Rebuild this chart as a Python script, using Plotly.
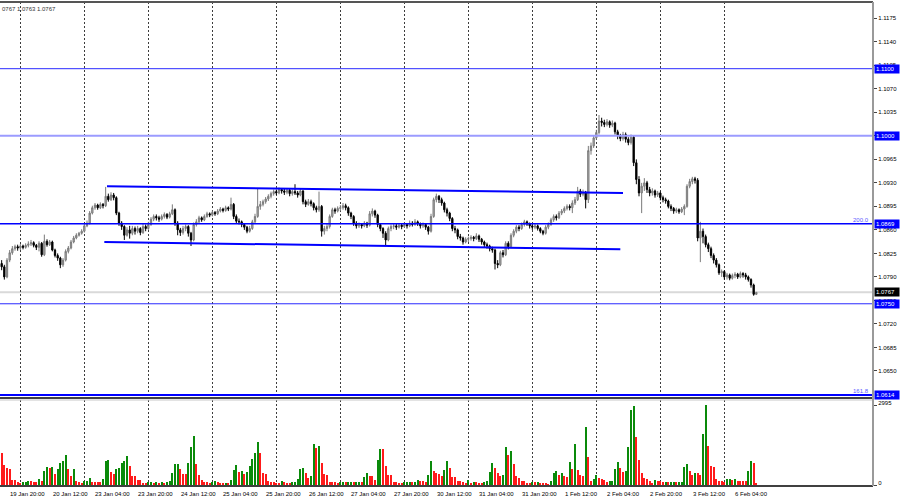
import pandas as pd
import plotly.graph_objects as go

# ---------------- data ----------------
hours = pd.date_range("2023-01-19 18:00", "2023-02-06 13:00", freq="h")
bar_times = [t for t in hours if t.weekday() < 5]

opens = [
1.0810, 1.0805, 1.0790, 1.0815, 1.0826, 1.0832, 1.0835, 1.0833, 1.0836, 1.0834,
1.0837, 1.0839, 1.0841, 1.0837, 1.0834, 1.0840, 1.0823, 1.0843, 1.0838, 1.0842,
1.0830, 1.0822, 1.0818, 1.0808, 1.0815, 1.0828, 1.0833, 1.0842, 1.0848, 1.0852,
1.0855, 1.0858, 1.0866, 1.0870, 1.0885, 1.0893, 1.0897, 1.0893, 1.0898, 1.0896,
1.0910, 1.0905, 1.0912, 1.0908, 1.0885, 1.0870, 1.0865, 1.0852, 1.0860, 1.0855,
1.0862, 1.0858, 1.0862, 1.0856, 1.0865, 1.0862, 1.0868, 1.0876, 1.0880, 1.0878,
1.0876, 1.0880, 1.0883, 1.0879, 1.0884, 1.0890, 1.0870, 1.0860, 1.0856, 1.0862,
1.0865, 1.0855, 1.0845, 1.0868, 1.0872, 1.0878, 1.0875, 1.0880, 1.0884, 1.0882,
1.0886, 1.0884, 1.0888, 1.0891, 1.0889, 1.0893, 1.0891, 1.0898, 1.0880, 1.0873,
1.0872, 1.0868, 1.0864, 1.0858, 1.0862, 1.0872, 1.0880, 1.0895, 1.0898, 1.0902,
1.0906, 1.0910, 1.0914, 1.0917, 1.0915, 1.0920, 1.0918, 1.0916, 1.0919, 1.0914,
1.0917, 1.0915, 1.0912, 1.0918, 1.0902, 1.0898, 1.0902, 1.0899, 1.0893, 1.0890,
1.0895, 1.0858, 1.0862, 1.0865, 1.0880, 1.0890, 1.0888, 1.0892, 1.0893, 1.0896,
1.0893, 1.0885, 1.0880, 1.0870, 1.0866, 1.0868, 1.0866, 1.0870, 1.0867, 1.0884,
1.0888, 1.0882, 1.0868, 1.0862, 1.0855, 1.0845, 1.0862, 1.0865, 1.0866, 1.0864,
1.0867, 1.0865, 1.0868, 1.0866, 1.0870, 1.0868, 1.0872, 1.0869, 1.0866, 1.0868,
1.0864, 1.0858, 1.0880, 1.0905, 1.0910, 1.0905, 1.0900, 1.0890, 1.0885, 1.0877,
1.0862, 1.0860, 1.0850, 1.0848, 1.0842, 1.0846, 1.0847, 1.0849, 1.0847, 1.0851,
1.0846, 1.0842, 1.0838, 1.0836, 1.0832, 1.0830, 1.0810, 1.0808, 1.0826, 1.0823,
1.0840, 1.0835, 1.0852, 1.0858, 1.0864, 1.0862, 1.0868, 1.0872, 1.0869, 1.0866,
1.0864, 1.0866, 1.0862, 1.0858, 1.0855, 1.0864, 1.0868, 1.0875, 1.0880, 1.0878,
1.0885, 1.0888, 1.0892, 1.0895, 1.0893, 1.0900, 1.0905, 1.0918, 1.0913, 1.0916,
1.0905, 1.0978, 1.0985, 1.0997, 1.1005, 1.1022, 1.1020, 1.1017, 1.1021, 1.1016,
1.1019, 1.1006, 1.1000, 1.0996, 1.1002, 1.0995, 1.0990, 1.0998, 1.0960, 1.0935,
1.0915, 1.0925, 1.0930, 1.0920, 1.0915, 1.0918, 1.0912, 1.0915, 1.0908, 1.0905,
1.0903, 1.0895, 1.0892, 1.0888, 1.0890, 1.0887, 1.0891, 1.0895, 1.0925, 1.0932,
1.0936, 1.0934, 1.0848, 1.0858, 1.0850, 1.0838, 1.0832, 1.0822, 1.0815, 1.0808,
1.0796, 1.0798, 1.0790, 1.0793, 1.0788, 1.0792, 1.0794, 1.0790, 1.0795, 1.0793,
1.0790, 1.0786, 1.0778, 1.0764,
]

highs = [
1.0815, 1.0808, 1.0818, 1.0830, 1.0836, 1.0838, 1.0838, 1.0839, 1.0838, 1.0840,
1.0843, 1.0845, 1.0843, 1.0839, 1.0843, 1.0842, 1.0853, 1.0846, 1.0845, 1.0844,
1.0832, 1.0825, 1.0820, 1.0818, 1.0831, 1.0836, 1.0845, 1.0851, 1.0855, 1.0857,
1.0861, 1.0869, 1.0874, 1.0888, 1.0896, 1.0900, 1.0899, 1.0901, 1.0900, 1.0924,
1.0914, 1.0916, 1.0915, 1.0910, 1.0887, 1.0873, 1.0867, 1.0864, 1.0866, 1.0866,
1.0865, 1.0866, 1.0864, 1.0869, 1.0868, 1.0872, 1.0879, 1.0883, 1.0883, 1.0881,
1.0883, 1.0886, 1.0885, 1.0887, 1.0898, 1.0892, 1.0873, 1.0863, 1.0866, 1.0868,
1.0867, 1.0857, 1.0871, 1.0876, 1.0881, 1.0880, 1.0883, 1.0887, 1.0886, 1.0889,
1.0888, 1.0891, 1.0894, 1.0893, 1.0896, 1.0895, 1.0908, 1.0900, 1.0883, 1.0877,
1.0874, 1.0870, 1.0866, 1.0866, 1.0875, 1.0884, 1.0922, 1.0903, 1.0905, 1.0909,
1.0913, 1.0917, 1.0920, 1.0920, 1.0923, 1.0922, 1.0921, 1.0922, 1.0921, 1.0920,
1.0928, 1.0918, 1.0922, 1.0919, 1.0905, 1.0906, 1.0905, 1.0901, 1.0896, 1.0917,
1.0897, 1.0866, 1.0869, 1.0883, 1.0893, 1.0893, 1.0895, 1.0897, 1.0900, 1.0899,
1.0895, 1.0887, 1.0882, 1.0873, 1.0871, 1.0870, 1.0873, 1.0872, 1.0888, 1.0892,
1.0890, 1.0884, 1.0870, 1.0864, 1.0858, 1.0865, 1.0868, 1.0870, 1.0869, 1.0870,
1.0869, 1.0871, 1.0870, 1.0874, 1.0873, 1.0876, 1.0874, 1.0871, 1.0871, 1.0869,
1.0866, 1.0884, 1.0908, 1.0914, 1.0912, 1.0908, 1.0902, 1.0893, 1.0887, 1.0879,
1.0866, 1.0862, 1.0854, 1.0850, 1.0849, 1.0850, 1.0852, 1.0851, 1.0855, 1.0853,
1.0848, 1.0844, 1.0841, 1.0838, 1.0835, 1.0832, 1.0815, 1.0829, 1.0830, 1.0843,
1.0843, 1.0855, 1.0861, 1.0867, 1.0867, 1.0871, 1.0875, 1.0874, 1.0871, 1.0869,
1.0869, 1.0868, 1.0864, 1.0860, 1.0867, 1.0871, 1.0878, 1.0883, 1.0883, 1.0888,
1.0891, 1.0895, 1.0898, 1.0898, 1.0904, 1.0909, 1.0924, 1.0921, 1.0920, 1.0918,
1.0985, 1.0990, 1.1001, 1.1009, 1.1031, 1.1027, 1.1024, 1.1025, 1.1023, 1.1023,
1.1021, 1.1009, 1.1003, 1.1006, 1.1005, 1.0998, 1.1002, 1.1000, 1.0965, 1.0940,
1.0930, 1.0937, 1.0933, 1.0924, 1.0922, 1.0920, 1.0918, 1.0917, 1.0911, 1.0908,
1.0905, 1.0898, 1.0894, 1.0893, 1.0892, 1.0894, 1.0898, 1.0928, 1.0936, 1.0939,
1.0939, 1.0937, 1.0872, 1.0862, 1.0853, 1.0841, 1.0835, 1.0825, 1.0818, 1.0810,
1.0801, 1.0800, 1.0796, 1.0795, 1.0795, 1.0797, 1.0796, 1.0798, 1.0797, 1.0796,
1.0792, 1.0788, 1.0780, 1.0767,
]

lows = [
1.0800, 1.0786, 1.0788, 1.0812, 1.0823, 1.0829, 1.0829, 1.0830, 1.0831, 1.0832,
1.0834, 1.0836, 1.0834, 1.0830, 1.0828, 1.0820, 1.0821, 1.0835, 1.0836, 1.0828,
1.0819, 1.0814, 1.0803, 1.0805, 1.0813, 1.0825, 1.0831, 1.0840, 1.0846, 1.0850,
1.0853, 1.0856, 1.0864, 1.0868, 1.0883, 1.0890, 1.0890, 1.0891, 1.0892, 1.0894,
1.0902, 1.0903, 1.0904, 1.0882, 1.0866, 1.0860, 1.0845, 1.0850, 1.0847, 1.0852,
1.0853, 1.0855, 1.0852, 1.0854, 1.0858, 1.0860, 1.0866, 1.0873, 1.0874, 1.0872,
1.0874, 1.0877, 1.0876, 1.0877, 1.0882, 1.0866, 1.0852, 1.0851, 1.0853, 1.0858,
1.0850, 1.0836, 1.0843, 1.0865, 1.0870, 1.0872, 1.0873, 1.0878, 1.0879, 1.0880,
1.0881, 1.0882, 1.0886, 1.0886, 1.0887, 1.0888, 1.0889, 1.0876, 1.0869, 1.0868,
1.0864, 1.0860, 1.0855, 1.0856, 1.0860, 1.0870, 1.0878, 1.0890, 1.0895, 1.0899,
1.0903, 1.0907, 1.0911, 1.0912, 1.0913, 1.0914, 1.0912, 1.0913, 1.0910, 1.0911,
1.0912, 1.0908, 1.0910, 1.0898, 1.0894, 1.0896, 1.0895, 1.0889, 1.0886, 1.0887,
1.0850, 1.0853, 1.0858, 1.0862, 1.0878, 1.0884, 1.0886, 1.0888, 1.0890, 1.0889,
1.0881, 1.0876, 1.0866, 1.0862, 1.0863, 1.0862, 1.0864, 1.0863, 1.0865, 1.0880,
1.0878, 1.0864, 1.0858, 1.0848, 1.0837, 1.0843, 1.0858, 1.0861, 1.0860, 1.0862,
1.0861, 1.0863, 1.0862, 1.0864, 1.0865, 1.0866, 1.0866, 1.0862, 1.0863, 1.0860,
1.0853, 1.0856, 1.0878, 1.0901, 1.0900, 1.0896, 1.0886, 1.0880, 1.0873, 1.0858,
1.0855, 1.0846, 1.0844, 1.0838, 1.0840, 1.0842, 1.0844, 1.0843, 1.0845, 1.0842,
1.0838, 1.0834, 1.0832, 1.0828, 1.0826, 1.0801, 1.0803, 1.0806, 1.0819, 1.0821,
1.0831, 1.0833, 1.0849, 1.0855, 1.0858, 1.0860, 1.0865, 1.0866, 1.0862, 1.0860,
1.0861, 1.0859, 1.0855, 1.0852, 1.0853, 1.0861, 1.0866, 1.0872, 1.0874, 1.0876,
1.0882, 1.0885, 1.0889, 1.0889, 1.0885, 1.0897, 1.0903, 1.0909, 1.0910, 1.0892,
1.0900, 1.0972, 1.0982, 1.0994, 1.1002, 1.1014, 1.1013, 1.1014, 1.1012, 1.1013,
1.1002, 1.0995, 1.0992, 1.0993, 1.0990, 1.0986, 1.0987, 1.0955, 1.0928, 1.0910,
1.0885, 1.0918, 1.0915, 1.0910, 1.0911, 1.0908, 1.0909, 1.0904, 1.0901, 1.0899,
1.0892, 1.0888, 1.0884, 1.0885, 1.0884, 1.0885, 1.0882, 1.0893, 1.0922, 1.0928,
1.0929, 1.0843, 1.0812, 1.0840, 1.0834, 1.0827, 1.0818, 1.0810, 1.0804, 1.0793,
1.0790, 1.0786, 1.0786, 1.0785, 1.0786, 1.0788, 1.0787, 1.0788, 1.0789, 1.0786,
1.0783, 1.0774, 1.0762, 1.0763,
]

closes = [
1.0805, 1.0790, 1.0815, 1.0826, 1.0832, 1.0835, 1.0833, 1.0836, 1.0834, 1.0837,
1.0839, 1.0841, 1.0837, 1.0834, 1.0840, 1.0823, 1.0843, 1.0838, 1.0842, 1.0830,
1.0822, 1.0818, 1.0808, 1.0815, 1.0828, 1.0833, 1.0842, 1.0848, 1.0852, 1.0855,
1.0858, 1.0866, 1.0870, 1.0885, 1.0893, 1.0897, 1.0893, 1.0898, 1.0896, 1.0910,
1.0905, 1.0912, 1.0908, 1.0885, 1.0870, 1.0865, 1.0852, 1.0860, 1.0855, 1.0862,
1.0858, 1.0862, 1.0856, 1.0865, 1.0862, 1.0868, 1.0876, 1.0880, 1.0878, 1.0876,
1.0880, 1.0883, 1.0879, 1.0884, 1.0890, 1.0870, 1.0860, 1.0856, 1.0862, 1.0865,
1.0855, 1.0845, 1.0868, 1.0872, 1.0878, 1.0875, 1.0880, 1.0884, 1.0882, 1.0886,
1.0884, 1.0888, 1.0891, 1.0889, 1.0893, 1.0891, 1.0898, 1.0880, 1.0873, 1.0872,
1.0868, 1.0864, 1.0858, 1.0862, 1.0872, 1.0880, 1.0895, 1.0898, 1.0902, 1.0906,
1.0910, 1.0914, 1.0917, 1.0915, 1.0920, 1.0918, 1.0916, 1.0919, 1.0914, 1.0917,
1.0915, 1.0912, 1.0918, 1.0902, 1.0898, 1.0902, 1.0899, 1.0893, 1.0890, 1.0895,
1.0858, 1.0862, 1.0865, 1.0880, 1.0890, 1.0888, 1.0892, 1.0893, 1.0896, 1.0893,
1.0885, 1.0880, 1.0870, 1.0866, 1.0868, 1.0866, 1.0870, 1.0867, 1.0884, 1.0888,
1.0882, 1.0868, 1.0862, 1.0855, 1.0845, 1.0862, 1.0865, 1.0866, 1.0864, 1.0867,
1.0865, 1.0868, 1.0866, 1.0870, 1.0868, 1.0872, 1.0869, 1.0866, 1.0868, 1.0864,
1.0858, 1.0880, 1.0905, 1.0910, 1.0905, 1.0900, 1.0890, 1.0885, 1.0877, 1.0862,
1.0860, 1.0850, 1.0848, 1.0842, 1.0846, 1.0847, 1.0849, 1.0847, 1.0851, 1.0846,
1.0842, 1.0838, 1.0836, 1.0832, 1.0830, 1.0810, 1.0808, 1.0826, 1.0823, 1.0840,
1.0835, 1.0852, 1.0858, 1.0864, 1.0862, 1.0868, 1.0872, 1.0869, 1.0866, 1.0864,
1.0866, 1.0862, 1.0858, 1.0855, 1.0864, 1.0868, 1.0875, 1.0880, 1.0878, 1.0885,
1.0888, 1.0892, 1.0895, 1.0893, 1.0900, 1.0905, 1.0918, 1.0913, 1.0916, 1.0905,
1.0978, 1.0985, 1.0997, 1.1005, 1.1022, 1.1020, 1.1017, 1.1021, 1.1016, 1.1019,
1.1006, 1.1000, 1.0996, 1.1002, 1.0995, 1.0990, 1.0998, 1.0960, 1.0935, 1.0915,
1.0925, 1.0930, 1.0920, 1.0915, 1.0918, 1.0912, 1.0915, 1.0908, 1.0905, 1.0903,
1.0895, 1.0892, 1.0888, 1.0890, 1.0887, 1.0891, 1.0895, 1.0925, 1.0932, 1.0936,
1.0934, 1.0848, 1.0858, 1.0850, 1.0838, 1.0832, 1.0822, 1.0815, 1.0808, 1.0796,
1.0798, 1.0790, 1.0793, 1.0788, 1.0792, 1.0794, 1.0790, 1.0795, 1.0793, 1.0790,
1.0786, 1.0778, 1.0764, 1.0767,
]

volumes = [
1190, 750, 625, 600, 190, 185, 100, 60, 125, 130,
160, 140, 125, 120, 210, 150, 540, 660, 640, 665,
410, 610, 810, 900, 1125, 590, 340, 590, 150, 125,
60, 160, 165, 260, 110, 108, 105, 100, 240, 910,
925, 490, 410, 590, 625, 840, 910, 1090, 710, 340,
335, 190, 185, 90, 60, 110, 115, 90, 100, 75,
110, 75, 100, 140, 460, 790, 800, 590, 410, 405,
840, 1440, 1840, 790, 360, 190, 110, 105, 90, 110,
160, 110, 90, 88, 92, 90, 190, 560, 740, 500,
540, 410, 500, 710, 960, 1210, 1610, 1210, 460, 410,
160, 110, 105, 90, 88, 140, 110, 90, 88, 110,
115, 210, 590, 625, 460, 250, 340, 1525, 1390, 1460,
810, 410, 390, 110, 108, 105, 90, 110, 112, 110,
113, 115, 112, 115, 117, 115, 310, 460, 340, 335,
190, 940, 1340, 1335, 710, 375, 370, 125, 120, 90,
60, 110, 112, 115, 113, 116, 190, 140, 138, 110,
390, 910, 525, 460, 410, 325, 560, 900, 625, 310,
305, 160, 150, 110, 60, 190, 60, 110, 100, 90,
88, 110, 150, 490, 840, 625, 460, 340, 360, 1440,
1125, 1275, 775, 340, 250, 150, 140, 90, 85, 110,
108, 125, 90, 60, 58, 56, 140, 460, 525, 360,
460, 340, 310, 850, 600, 1525, 560, 360, 355, 2190,
1060, 160, 240, 360, 250, 240, 190, 110, 140, 160,
600, 875, 625, 500, 525, 1440, 2790, 2975, 1810, 940,
460, 275, 210, 160, 90, 190, 150, 145, 110, 112,
110, 113, 115, 112, 114, 116, 660, 790, 525, 360,
460, 455, 360, 1910, 2995, 1460, 710, 660, 210, 150,
140, 110, 240, 242, 190, 240, 160, 158, 156, 154,
540, 910, 840, 60,
]

n = len(bar_times)
assert len(opens) == n and len(highs) == n and len(lows) == n and len(closes) == n and len(volumes) == n, \
    (n, len(opens), len(highs), len(lows), len(closes), len(volumes))

bar_pos = list(range(n))

time_labels = ["19 Jan 20:00", "20 Jan 12:00", "23 Jan 04:00", "23 Jan 20:00", "24 Jan 12:00",
               "25 Jan 04:00", "25 Jan 20:00", "26 Jan 12:00", "27 Jan 04:00", "27 Jan 20:00",
               "30 Jan 12:00", "31 Jan 04:00", "31 Jan 20:00", "1 Feb 12:00", "2 Feb 04:00",
               "2 Feb 20:00", "3 Feb 12:00", "6 Feb 04:00"]
time_label_stamps = ["2023-01-19 20:00", "2023-01-20 12:00", "2023-01-23 04:00", "2023-01-23 20:00",
                     "2023-01-24 12:00", "2023-01-25 04:00", "2023-01-25 20:00", "2023-01-26 12:00",
                     "2023-01-27 04:00", "2023-01-27 20:00", "2023-01-30 12:00", "2023-01-31 04:00",
                     "2023-01-31 20:00", "2023-02-01 12:00", "2023-02-02 04:00", "2023-02-02 20:00",
                     "2023-02-03 12:00", "2023-02-06 04:00"]
grid_stamps = ["2023-01-20 01:00", "2023-01-23 01:00", "2023-01-24 01:00", "2023-01-25 01:00",
               "2023-01-26 01:00", "2023-01-27 01:00", "2023-01-30 01:00", "2023-01-31 01:00",
               "2023-02-01 01:00", "2023-02-02 01:00", "2023-02-03 01:00", "2023-02-06 01:00"]

price_ticks = [1.0650, 1.0685, 1.0720, 1.0755, 1.0790, 1.0825, 1.0860, 1.0895, 1.0930,
               1.0965, 1.1000, 1.1035, 1.1070, 1.1105, 1.1140, 1.1175]
volume_ticks = [0, 2995]

level_prices = [1.1100, 1.1000, 1.0869, 1.0750, 1.0614]
level_labels = ["1.1100", "1.1000", "1.0869", "1.0750", "1.0614"]
fibo_prices = [1.0869, 1.0614]
fibo_texts = ["200.0", "161.8"]
last_price = 1.0767

# channel lines: end points (time, price)
chan_upper_t = ["2023-01-23 09:30", "2023-02-02 11:00"]
chan_upper_p = [1.0925, 1.0915]
chan_lower_t = ["2023-01-23 08:30", "2023-02-02 10:00"]
chan_lower_p = [1.0842, 1.0831]

header_text = "0767 1.0763 1.0767"

# ---------------- helpers ----------------
ts_index = {t: i for i, t in enumerate(bar_times)}


def pos_of(stamp):
    t = pd.Timestamp(stamp)
    base = t.floor("h")
    frac = (t - base) / pd.Timedelta(hours=1)
    return ts_index[base] + frac


label_pos = [pos_of(s) for s in time_label_stamps]
grid_pos = [pos_of("2023-01-19 18:00") + 7] + [pos_of(s) for s in grid_stamps]

vol_colors = ["#ff1a1a"]
for i in range(1, n):
    vol_colors.append("#0a8a0a" if volumes[i] > volumes[i - 1] else "#ff1a1a")

FONT = "Liberation Sans, Arial, sans-serif"
BLUE = "#0000ff"

# ---------------- figure ----------------
fig = go.Figure()

fig.add_trace(go.Candlestick(
    x=bar_pos, open=opens, high=highs, low=lows, close=closes,
    increasing=dict(line=dict(color="#7a7a7a", width=1), fillcolor="#b4b4b4"),
    decreasing=dict(line=dict(color="#000000", width=1), fillcolor="#000000"),
    whiskerwidth=0, xaxis="x", yaxis="y", showlegend=False, hoverinfo="skip"))

fig.add_trace(go.Scatter(x=[pos_of(t) for t in chan_upper_t], y=chan_upper_p, mode="lines",
                         line=dict(color=BLUE, width=2), xaxis="x", yaxis="y",
                         showlegend=False, hoverinfo="skip"))
fig.add_trace(go.Scatter(x=[pos_of(t) for t in chan_lower_t], y=chan_lower_p, mode="lines",
                         line=dict(color=BLUE, width=2), xaxis="x", yaxis="y",
                         showlegend=False, hoverinfo="skip"))

fig.add_trace(go.Bar(x=bar_pos, y=volumes, marker=dict(color=vol_colors, line=dict(width=0)),
                     width=0.75, xaxis="x2", yaxis="y2", showlegend=False, hoverinfo="skip"))

W, H = 900, 500
ml, mr, mt, mb = 0, 27, 2, 14
plot_h = H - mt - mb
price_bottom_px = 398
vol_top_px = 400
price_dom = [(H - mb - price_bottom_px) / plot_h, 1]
vol_dom = [0, (H - mb - vol_top_px) / plot_h]

xrange = [-0.625, 326.75]
common_x = dict(range=xrange, showticklabels=False, ticks="", showgrid=True,
                gridcolor="#3c3c3c", gridwidth=1, griddash="2px,2px",
                tickvals=grid_pos, zeroline=False, showline=False, fixedrange=True,
                automargin=False)

fig.update_layout(
    width=W, height=H,
    margin=dict(l=ml, r=mr, t=mt, b=mb, autoexpand=False),
    paper_bgcolor="white", plot_bgcolor="white",
    font=dict(family=FONT, size=6, color="#000000"),
    bargap=0,
    xaxis=dict(domain=[0, 1], anchor="y", rangeslider=dict(visible=False), **common_x),
    yaxis=dict(domain=price_dom, anchor="x", side="right", range=[1.06097, 1.11993],
               tickvals=price_ticks, tickformat=".4f", ticks="outside", ticklen=3,
               tickcolor="#444", showgrid=False, zeroline=False, showline=False,
               automargin=False, fixedrange=True, tickfont=dict(size=6, family=FONT)),
    xaxis2=dict(domain=[0, 1], anchor="y2", matches="x", **common_x),
    yaxis2=dict(domain=vol_dom, anchor="x2", side="right", range=[-37, 3182],
                tickvals=volume_ticks, ticks="outside", ticklen=3, tickcolor="#444",
                ticklabelshift=-2,
                showgrid=False, zeroline=False, showline=False, fixedrange=True,
                automargin=False, tickfont=dict(size=6, family=FONT)),
)

shapes = []
shapes.append(dict(type="line", xref="paper", x0=0, x1=1, yref="y", y0=last_price, y1=last_price,
                   line=dict(color="#d9d9d9", width=2), layer="below"))
level_styles = {1.1100: ("#2a2aff", 1), 1.1000: ("#9b9bff", 2), 1.0869: (BLUE, 1.5),
                1.0750: ("#2a2aff", 1), 1.0614: (BLUE, 2)}
for p in level_prices:
    c, w = level_styles[p]
    shapes.append(dict(type="line", xref="paper", x0=0, x1=1, yref="y", y0=p, y1=p,
                       line=dict(color=c, width=w), layer="above"))
shapes.append(dict(type="line", xref="paper", yref="paper", x0=0, x1=1, y0=1, y1=1,
                   line=dict(color="#555555", width=2)))
shapes.append(dict(type="line", xref="paper", yref="paper", x0=0, x1=1,
                   y0=price_dom[0], y1=price_dom[0], line=dict(color="#404040", width=2)))
shapes.append(dict(type="line", xref="paper", yref="paper", x0=0, x1=1,
                   y0=vol_dom[1], y1=vol_dom[1], line=dict(color="#c8c8c8", width=1)))
shapes.append(dict(type="line", xref="paper", yref="paper", x0=0, x1=1, y0=0, y1=0,
                   line=dict(color="#404040", width=2)))
shapes.append(dict(type="line", xref="paper", yref="paper", x0=1, x1=1, y0=0, y1=1,
                   line=dict(color="#9a9a9a", width=2)))
fig.update_layout(shapes=shapes)

ann = []
for p, txt in zip(level_prices, level_labels):
    ann.append(dict(xref="paper", x=1, xanchor="left", yref="y", y=p, yanchor="middle",
                    text=txt, showarrow=False, bgcolor=BLUE, borderpad=1, xshift=1,
                    width=22, align="left",
                    font=dict(color="white", size=6, family=FONT)))
ann.append(dict(xref="paper", x=1, xanchor="left", yref="y", y=last_price, yanchor="middle",
                text=f"{last_price:.4f}", showarrow=False, bgcolor="#000000", borderpad=1, xshift=1,
                width=22, align="left",
                font=dict(color="white", size=6, family=FONT)))
for p, txt in zip(fibo_prices, fibo_texts):
    ann.append(dict(xref="paper", x=1, xanchor="right", yref="y", y=p, yanchor="bottom",
                    text=txt, showarrow=False, xshift=-2, yshift=-1,
                    font=dict(color="#5a5aff", size=6, family=FONT)))
for p, txt in zip(label_pos, time_labels):
    ann.append(dict(xref="x2", x=p, xanchor="left", yref="paper", y=0, yanchor="top",
                    text=txt, showarrow=False, xshift=1, yshift=-3,
                    font=dict(color="#000000", size=6, family=FONT)))
ann.append(dict(xref="paper", x=0, xanchor="left", yref="paper", y=1, yanchor="top",
                text=header_text, showarrow=False, yshift=-2,
                font=dict(color="#333333", size=6, family=FONT)))
fig.update_layout(annotations=ann)

fig.write_html("out.html",
               config={"displayModeBar": False},
               post_script="document.body.style.margin='0px';document.body.style.padding='0px';"
                           "document.body.style.overflow='hidden';")
